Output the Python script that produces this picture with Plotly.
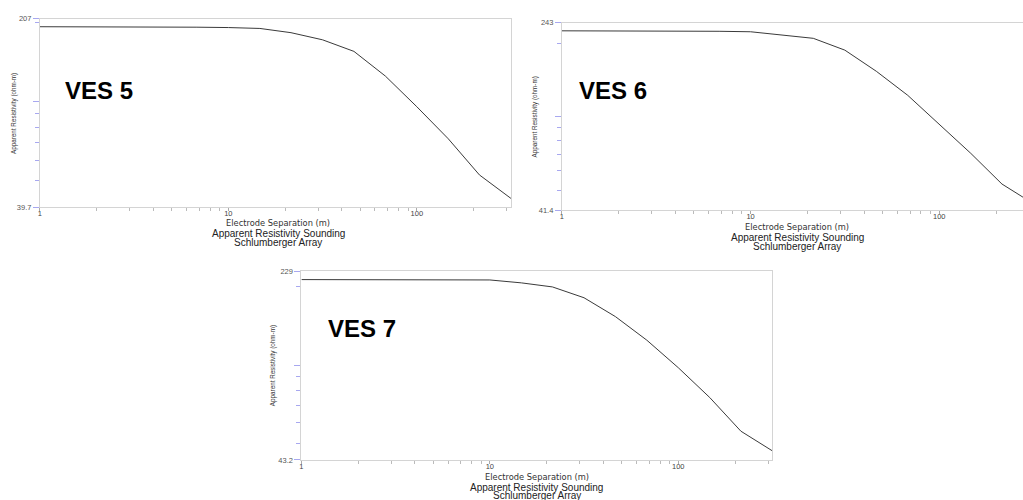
import math
import plotly.graph_objects as go

# ---------------- data ----------------
spacing = [1, 1.47, 2.15, 3.16, 4.64, 6.81, 10, 14.7, 21.5, 31.6, 46.4, 68.1, 100, 147, 215, 316]
ves5 = [193, 193, 193, 192.9, 192.6, 192.2, 191.6, 190.1, 183.2, 172.1, 155.5, 125.3, 95.8, 72.3, 52.7, 42.9]
ves6 = [225, 225, 225, 224.8, 224.5, 224.0, 223.0, 216.0, 209.6, 187.5, 153.6, 122.4, 93.5, 70.8, 53.0, 44.0]
ves7 = [213, 213, 213, 212.9, 212.8, 212.6, 212.3, 206.9, 199.6, 181.4, 153.5, 124.6, 97.7, 75.0, 55.7, 46.8]

panel_names = ["VES 5", "VES 6", "VES 7"]
y_limits = [(39.7, 207), (41.4, 243), (43.2, 229)]
y_limit_labels = [("39.7", "207"), ("41.4", "243"), ("43.2", "229")]
x_tick_vals = [1, 10, 100]
x_tick_text = ["1", "10", "100"]
x_minor_vals = [2, 3, 4, 5, 6, 7, 8, 9, 20, 30, 40, 50, 60, 70, 80, 90, 200, 300]
y_minor_vals = [50, 60, 70, 80, 90, 200]
x_title = "Electrode Separation (m)"
y_title = "Apparent Resistivity (ohm-m)"
caption1 = "Apparent Resistivity Sounding"
caption2 = "Schlumberger Array"
series = [ves5, ves6, ves7]

# ---------------- layout geometry (screen pixels) ----------------
W, H = 1023, 500
# left, right, top, bottom of each plot area (pixels)
boxes = [(38, 510, 15, 207), (561, 1023, 19, 210), (300, 772, 272.3, 464.3)]
x_range_end = [2.5, 2.444, 2.5]
label_pos = [(97, 88), (612, 88), (361, 330)]
ytitle_x = [12, 534, 271]
xtitle_y = [223.5, 227, 481.5]
caption_x = [277, 797, 536]


def px(x):
    return x / W


def py(y):
    return 1 - y / H


fig = go.Figure()
annotations = []
layout = dict(
    width=W, height=H,
    margin=dict(l=0, r=0, t=0, b=0),
    paper_bgcolor="white", plot_bgcolor="white",
    showlegend=False,
    font=dict(family="Liberation Sans, Arial, sans-serif", color="#333"),
)

for i in range(3):
    k = "" if i == 0 else str(i + 1)
    l, r, t, b = boxes[i]
    ylo, yhi = y_limits[i]
    fig.add_trace(go.Scatter(
        x=spacing, y=series[i], mode="lines",
        line=dict(color="#3a3a3a", width=1),
        xaxis="x" + k, yaxis="y" + k, hoverinfo="x+y",
    ))
    layout["xaxis" + k] = dict(
        type="log", domain=[px(l), min(px(r), 1.0)], range=[0, x_range_end[i]],
        anchor="y" + k,
        showgrid=False, zeroline=False,
        showline=True, linecolor="#d4d4d4", linewidth=1, mirror=True,
        tickmode="array", tickvals=x_tick_vals, ticktext=x_tick_text,
        ticks="outside", ticklen=3, tickcolor="#aaaaaa", tickwidth=1,
        ticklabelstandoff=-4,
        tickfont=dict(size=7.5, color="#444"),
        minor=dict(tickmode="array", tickvals=x_minor_vals, ticks="outside",
                   ticklen=3, tickcolor="#bbbbbb", tickwidth=1, showgrid=False),
    )
    layout["yaxis" + k] = dict(
        type="log", domain=[py(b), py(t)],
        range=[math.log10(ylo), math.log10(yhi)],
        anchor="x" + k,
        showgrid=False, zeroline=False,
        showline=True, linecolor="#d4d4d4", linewidth=1, mirror=(i != 1),
        tickmode="array", tickvals=[ylo, 100, yhi],
        ticktext=[y_limit_labels[i][0], "", y_limit_labels[i][1]],
        ticks="outside", ticklen=6, tickcolor="#a8a8f0", tickwidth=1,
        tickfont=dict(size=7.5, color="#555"),
        minor=dict(tickmode="array", tickvals=y_minor_vals, ticks="outside",
                   ticklen=4, tickcolor="#a8a8f0", tickwidth=1, showgrid=False),
    )
    cx = caption_x[i]
    # panel label
    annotations.append(dict(
        x=px(label_pos[i][0]), y=py(label_pos[i][1]), xref="paper", yref="paper",
        text="<b>" + panel_names[i] + "</b>", showarrow=False,
        font=dict(size=24, color="#000", family="Liberation Sans, Arial, sans-serif"),
        xanchor="center", yanchor="middle",
    ))
    # y axis title
    annotations.append(dict(
        x=px(ytitle_x[i]), y=py((t + b) / 2), xref="paper", yref="paper",
        text=y_title, showarrow=False, textangle=-90,
        font=dict(size=6.3, color="#333"),
        xanchor="center", yanchor="middle",
    ))
    # x axis title and captions
    annotations.append(dict(
        x=px(cx), y=py(xtitle_y[i]), xref="paper", yref="paper",
        text=x_title, showarrow=False,
        font=dict(size=8.3, color="#333", family="DejaVu Sans, sans-serif"),
        xanchor="center", yanchor="middle",
    ))
    annotations.append(dict(
        x=px(cx), y=py(xtitle_y[i] + 10.5), xref="paper", yref="paper",
        text=caption1, showarrow=False,
        font=dict(size=10, color="#222"),
        xanchor="center", yanchor="middle",
    ))
    annotations.append(dict(
        x=px(cx), y=py(xtitle_y[i] + 19.5), xref="paper", yref="paper",
        text=caption2, showarrow=False,
        font=dict(size=10, color="#222"),
        xanchor="center", yanchor="middle",
    ))

layout["annotations"] = annotations
fig.update_layout(**layout)
fig.write_html(
    "out.html",
    config={"displayModeBar": False},
    post_script="document.body.style.margin='0px';document.body.style.overflow='hidden';",
)
